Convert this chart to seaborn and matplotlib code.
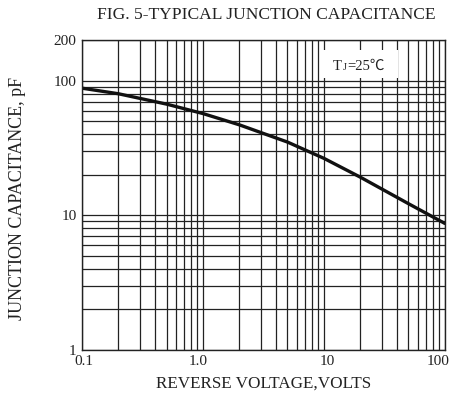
import matplotlib
matplotlib.use("Agg")
import matplotlib.pyplot as plt
import matplotlib.transforms as mtransforms
from matplotlib.patches import Rectangle
from matplotlib.offsetbox import TextArea, HPacker, AnchoredOffsetbox
import seaborn as sns
import pandas as pd
from matplotlib.ticker import LogLocator, FixedLocator, FixedFormatter, NullFormatter

voltage = [0.1, 0.2, 0.5, 1.0, 2.0, 5.0, 10.0, 20.0, 50.0, 100.0]
capacitance = [88, 80, 67, 57, 47, 35, 26.5, 19.2, 12.2, 8.7]
x_ticks = [0.1, 1.0, 10, 100]
x_ticklabels = ["0.1", "1.0", "10", "100"]
y_ticks = [1, 10, 100, 200]
y_ticklabels = ["1", "10", "100", "200"]

sns.set_theme(style="white")
plt.rcParams['font.family'] = ['Liberation Serif', 'DejaVu Serif', 'Noto Sans CJK SC']

df = pd.DataFrame({"V": voltage, "C": capacitance})

fig = plt.figure(figsize=(4.53, 3.94), dpi=100)
ax = fig.add_axes([0.181, 0.112, 0.801, 0.786])
ax.set_xscale("log")
ax.set_yscale("log")
ax.set_xlim(0.1, 100)
ax.set_ylim(1, 200)

sns.lineplot(data=df, x="V", y="C", ax=ax, color="#111111", linewidth=2.4, zorder=5)

ax.xaxis.set_major_locator(FixedLocator(x_ticks))
ax.xaxis.set_major_formatter(FixedFormatter(x_ticklabels))
ax.xaxis.set_minor_locator(LogLocator(base=10, subs=range(2, 10)))
ax.xaxis.set_minor_formatter(NullFormatter())
ax.yaxis.set_major_locator(FixedLocator(y_ticks))
ax.yaxis.set_major_formatter(FixedFormatter(y_ticklabels))
ax.yaxis.set_minor_locator(FixedLocator([2, 3, 4, 5, 6, 7, 8, 9, 20, 30, 40, 50, 60, 70, 80, 90]))
ax.yaxis.set_minor_formatter(NullFormatter())

ax.set_axisbelow(True)
ax.grid(True, which="both", color="#222222", linewidth=0.9, zorder=0.5)
ax.tick_params(which="both", length=0, labelsize=11, colors="#222222", pad=4)
for s in ax.spines.values():
    s.set_color("#222222")
    s.set_linewidth(1.0)
    s.set_zorder(6)

# nudge x tick labels slightly as in the reference
offsets = [2, -5, 3, -7]
for lab, dx in zip(ax.get_xticklabels(), offsets):
    lab.set_transform(lab.get_transform() + mtransforms.ScaledTranslation(dx / 100, 0, fig.dpi_scale_trans))

ax.set_xlabel("REVERSE VOLTAGE,VOLTS", fontsize=12.3, color="#222222", labelpad=5)
ax.set_ylabel("JUNCTION CAPACITANCE, pF", fontsize=13, color="#222222")
ax.yaxis.label.set_va("center")
ax.yaxis.label.set_ha("center")
ax.yaxis.set_label_coords(-0.177, 0.49)

fig.text(0.587, 0.962, "FIG. 5-TYPICAL JUNCTION CAPACITANCE", ha="center", va="center",
         fontsize=12.6, color="#222222")

# white label box covering the grid
ax.add_patch(Rectangle((0.658, 0.877), 0.212, 0.091, transform=ax.transAxes,
                       facecolor="white", edgecolor="none", zorder=3))
tp = dict(color="#222222", fontsize=10.5)
tj = HPacker(children=[TextArea("T", textprops=tp),
                       TextArea("J", textprops=dict(color="#222222", fontsize=7.5)),
                       TextArea("=25℃", textprops=dict(color="#222222", fontsize=10.5,
                                                       family=['Liberation Serif', 'Noto Sans CJK SC']))],
             align="baseline", pad=0, sep=0.5)
anc = AnchoredOffsetbox(loc="center", child=tj, frameon=False, pad=0, borderpad=0,
                        bbox_to_anchor=(0.763, 0.915), bbox_transform=ax.transAxes)
anc.set_zorder(7)
ax.add_artist(anc)

fig.savefig("out.png", dpi=100)
